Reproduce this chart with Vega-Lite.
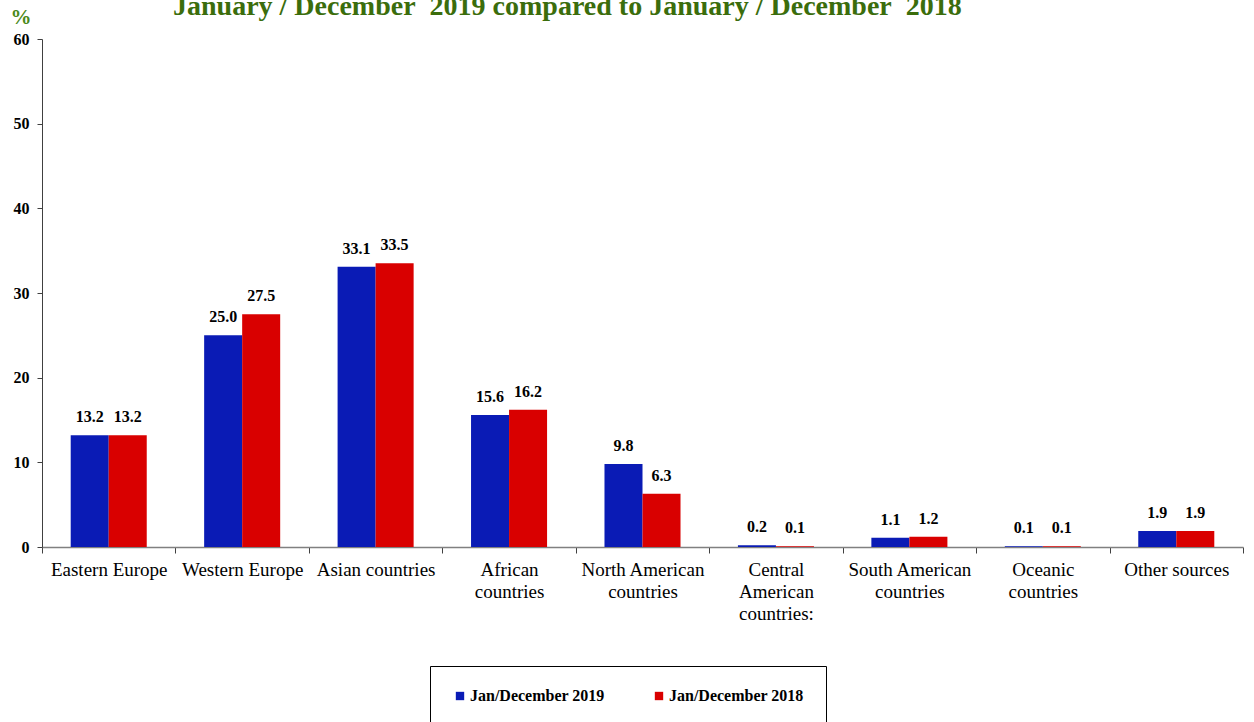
{
  "$schema": "https://vega.github.io/schema/vega-lite/v6.json",
  "width": 1201,
  "height": 508,
  "autosize": {"type": "none"},
  "padding": {"left": 42, "top": 39, "right": 11, "bottom": 175},
  "background": "white",
  "title": {
    "text": "January / December\u00a0 2019 compared to January / December\u00a0 2018",
    "anchor": "start",
    "frame": "group",
    "dx": 131,
    "dy": 19,
    "offset": 4,
    "font": "Liberation Serif",
    "fontSize": 28,
    "fontWeight": "bold",
    "color": "#3b6d0c"
  },
  "data": {
    "values": [
      {"region": "Eastern Europe", "period": "Jan/December 2019", "value": 13.2},
      {"region": "Eastern Europe", "period": "Jan/December 2018", "value": 13.2},
      {"region": "Western Europe", "period": "Jan/December 2019", "value": 25.0},
      {"region": "Western Europe", "period": "Jan/December 2018", "value": 27.5},
      {"region": "Asian countries", "period": "Jan/December 2019", "value": 33.1},
      {"region": "Asian countries", "period": "Jan/December 2018", "value": 33.5},
      {"region": "African countries", "period": "Jan/December 2019", "value": 15.6},
      {"region": "African countries", "period": "Jan/December 2018", "value": 16.2},
      {"region": "North American countries", "period": "Jan/December 2019", "value": 9.8},
      {"region": "North American countries", "period": "Jan/December 2018", "value": 6.3},
      {"region": "Central American countries:", "period": "Jan/December 2019", "value": 0.2},
      {"region": "Central American countries:", "period": "Jan/December 2018", "value": 0.1},
      {"region": "South American countries", "period": "Jan/December 2019", "value": 1.1},
      {"region": "South American countries", "period": "Jan/December 2018", "value": 1.2},
      {"region": "Oceanic countries", "period": "Jan/December 2019", "value": 0.1},
      {"region": "Oceanic countries", "period": "Jan/December 2018", "value": 0.1},
      {"region": "Other sources", "period": "Jan/December 2019", "value": 1.9},
      {"region": "Other sources", "period": "Jan/December 2018", "value": 1.9}
    ]
  },
  "encoding": {
    "x": {
      "field": "region",
      "type": "nominal",
      "sort": null,
      "scale": {"paddingInner": 0, "paddingOuter": 0},
      "axis": {
        "title": null,
        "labelAngle": 0,
        "tickBand": "extent",
        "labelFont": "Liberation Serif",
        "labelFontSize": 19,
        "labelColor": "black",
        "labelPadding": 7,
        "labelLineHeight": 22,
        "labelBaseline": "top",
        "labelExpr": "datum.label == 'African countries' ? ['African','countries'] : datum.label == 'North American countries' ? ['North American','countries'] : datum.label == 'Central American countries:' ? ['Central','American','countries:'] : datum.label == 'South American countries' ? ['South American','countries'] : datum.label == 'Oceanic countries' ? ['Oceanic','countries'] : datum.label",
        "domainColor": "#808080",
        "domainWidth": 1.5,
        "tickColor": "#404040",
        "tickSize": 6,
        "grid": false
      }
    },
    "xOffset": {
      "field": "period",
      "type": "nominal",
      "sort": ["Jan/December 2019", "Jan/December 2018"],
      "scale": {"paddingInner": 0, "paddingOuter": 0.755}
    },
    "y": {
      "field": "value",
      "type": "quantitative",
      "scale": {"domain": [0, 60], "nice": false},
      "axis": {
        "title": "%",
        "titleAngle": 0,
        "titleX": -32,
        "titleY": -16,
        "titleAlign": "left",
        "titleBaseline": "alphabetic",
        "titleFont": "Liberation Serif",
        "titleFontSize": 21,
        "titleFontWeight": "bold",
        "titleColor": "#4a8a1a",
        "values": [0, 10, 20, 30, 40, 50, 60],
        "labelFont": "Liberation Serif",
        "labelFontSize": 16,
        "labelFontWeight": "bold",
        "labelColor": "black",
        "labelPadding": 8,
        "tickSize": 5,
        "tickColor": "#404040",
        "domainColor": "#404040",
        "grid": false
      }
    }
  },
  "layer": [
    {
      "mark": {"type": "bar"},
      "encoding": {
        "color": {
          "field": "period",
          "type": "nominal",
          "sort": ["Jan/December 2019", "Jan/December 2018"],
          "scale": {"domain": ["Jan/December 2019", "Jan/December 2018"], "range": ["#0a1bb5", "#d90000"]},
          "legend": {
            "title": null,
            "orient": "none",
            "direction": "horizontal",
            "legendX": 388,
            "legendY": 627,
            "padding": 22,
            "strokeColor": "black",
            "fillColor": "white",
            "symbolType": "square",
            "symbolSize": 70,
            "symbolStrokeWidth": 0,
            "labelFont": "Liberation Serif",
            "labelFontSize": 16,
            "labelFontWeight": "bold",
            "labelColor": "black",
            "labelOffset": 2,
            "columnPadding": 46,
            "labelLimit": 300
          }
        }
      }
    },
    {
      "mark": {
        "type": "text",
        "dy": -10,
        "baseline": "bottom",
        "font": "Liberation Serif",
        "fontSize": 16,
        "fontWeight": "bold",
        "color": "black"
      },
      "encoding": {
        "text": {"field": "value", "type": "quantitative", "format": ".1f"}
      }
    }
  ],
  "config": {
    "view": {"stroke": null}
  }
}
